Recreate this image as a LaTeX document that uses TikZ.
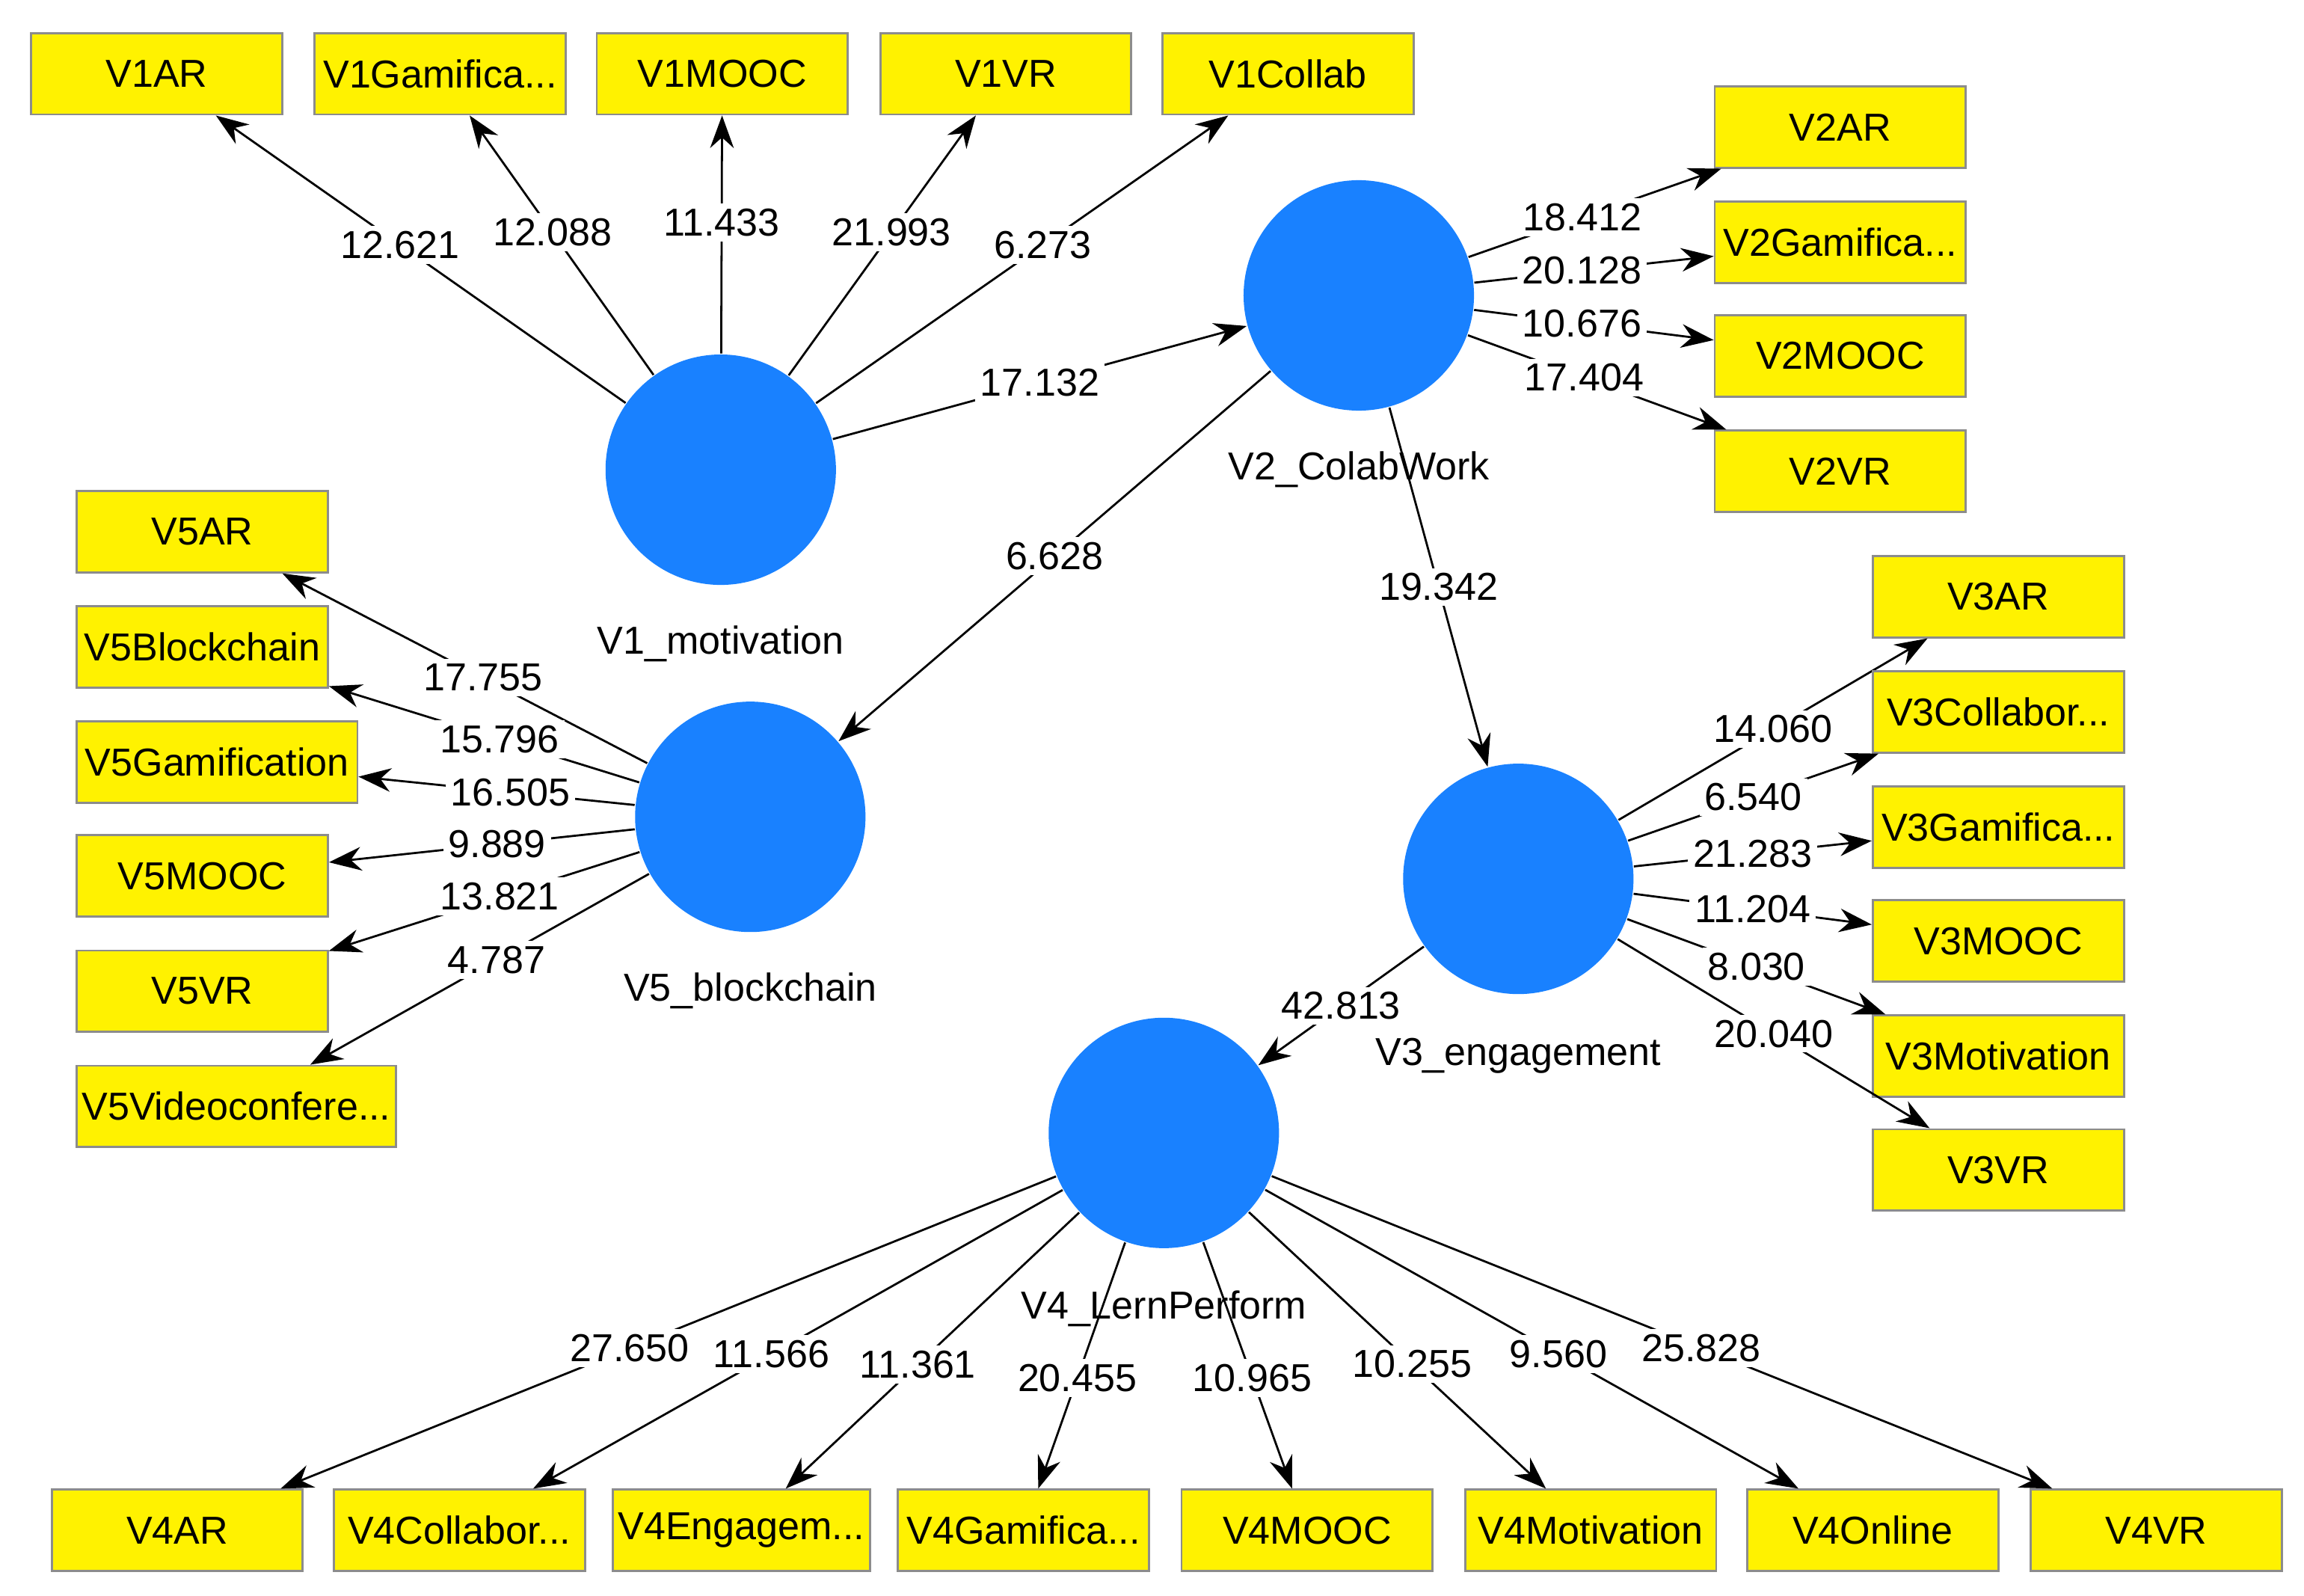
\documentclass[tikz,border=0pt]{standalone}
\usepackage{fontspec}
\setmainfont{Liberation Sans}
\usetikzlibrary{arrows.meta}
\newcommand{\trc}{...}

\begin{document}
\begin{tikzpicture}[
  ind/.style={rectangle, draw=black!45, fill=yellow, font=\fontsize{7.5}{9}\selectfont, minimum width=1.7cm, minimum height=0.55cm, inner sep=1pt},
  lat/.style={circle, fill=blue!55!cyan!90, minimum size=1.56cm, inner sep=0pt},
  lbl/.style={font=\fontsize{7.5}{9}\selectfont},
  arrow/.style={-{Stealth[length=2.2mm,width=1.6mm]}, black},
  val/.style={fill=white, font=\fontsize{7.5}{9}\selectfont, inner sep=1pt}
]
  \useasboundingbox (0,0) rectangle (15.6,-10.8);
  % Latent variables
  \node[lat] (v1) at (4.88,-3.18) {};
  \node[lat] (v2) at (9.20,-2.00) {};
  \node[lat] (v5) at (5.08,-5.53) {};
  \node[lat] (v3) at (10.28,-5.95) {};
  \node[lat] (v4) at (7.88,-7.67) {};
  \node[lbl] at (4.88,-4.36) {V1\_motivation};
  \node[lbl] at (9.20,-3.18) {V2\_ColabWork};
  \node[lbl] at (5.08,-6.71) {V5\_blockchain};
  \node[lbl] at (10.28,-7.15) {V3\_engagement};
  \node[lbl] at (7.88,-8.86) {V4\_LernPerform};

  % Indicators V1
  \foreach \n/\t/\x/\v in {v1ar/V1AR/1.06/12.621, v1gam/V1Gamifica\trc/2.98/12.088, v1mooc/V1MOOC/4.89/11.433, v1vr/V1VR/6.81/21.993, v1col/V1Collab/8.72/6.273} {
    \node[ind] (\n) at (\x,-0.50) {\t};
    \draw[arrow] (v1) -- node[val,pos=0.55] {\v} (\n);
  }
  % Indicators V2
  \foreach \n/\t/\y/\v in {v2ar/V2AR/0.86/18.412, v2gam/V2Gamifica\trc/1.64/20.128, v2mooc/V2MOOC/2.41/10.676, v2vr/V2VR/3.19/17.404} {
    \node[ind] (\n) at (12.46,-\y) {\t};
    \draw[arrow] (v2) -- node[val,pos=0.45] {\v} (\n);
  }
  % Indicators V3
  \foreach \n/\t/\y/\v in {v3ar/V3AR/4.04/14.060, v3col/V3Collabor\trc/4.82/6.540, v3gam/V3Gamifica\trc/5.60/21.283, v3mooc/V3MOOC/6.37/11.204, v3mot/V3Motivation/7.15/8.030, v3vr/V3VR/7.92/20.040} {
    \node[ind] (\n) at (13.53,-\y) {\t};
    \draw[arrow] (v3) -- node[val,pos=0.5] {\v} (\n);
  }
  % Indicators V5
  \foreach \n/\t/\x/\y/\w/\v in {v5ar/V5AR/1.37/3.60/1.7/17.755, v5blk/V5Blockchain/1.37/4.38/1.7/15.796, v5gam/V5Gamification/1.47/5.16/1.9/16.505, v5mooc/V5MOOC/1.37/5.93/1.7/9.889, v5vr/V5VR/1.37/6.71/1.7/13.821, v5vid/V5Videoconfere\trc/1.60/7.49/2.15/4.787} {
    \node[ind, minimum width=\w cm] (\n) at (\x,-\y) {\t};
    \draw[arrow] (v5) -- node[val,pos=0.45] {\v} (\n);
  }
  % Indicators V4
  \foreach \n/\t/\x/\v in {v4ar/V4AR/1.20/27.650, v4col/V4Collabor\trc/3.11/11.566, v4eng/V4Engagem\trc/5.02/11.361, v4gam/V4Gamifica\trc/6.93/20.455, v4mooc/V4MOOC/8.85/10.965, v4mot/V4Motivation/10.77/10.255, v4onl/V4Online/12.68/9.560, v4vr/V4VR/14.60/25.828} {
    \node[ind] (\n) at (\x,-10.36) {\t};
    \draw[arrow] (v4) -- node[val,pos=0.55] {\v} (\n);
  }

  % Structural paths
  \draw[arrow] (v1) -- node[val] {17.132} (v2);
  \draw[arrow] (v2) -- node[val] {6.628} (v5);
  \draw[arrow] (v2) -- node[val] {19.342} (v3);
  \draw[arrow] (v3) -- node[val] {42.813} (v4);
\end{tikzpicture}
\end{document}
